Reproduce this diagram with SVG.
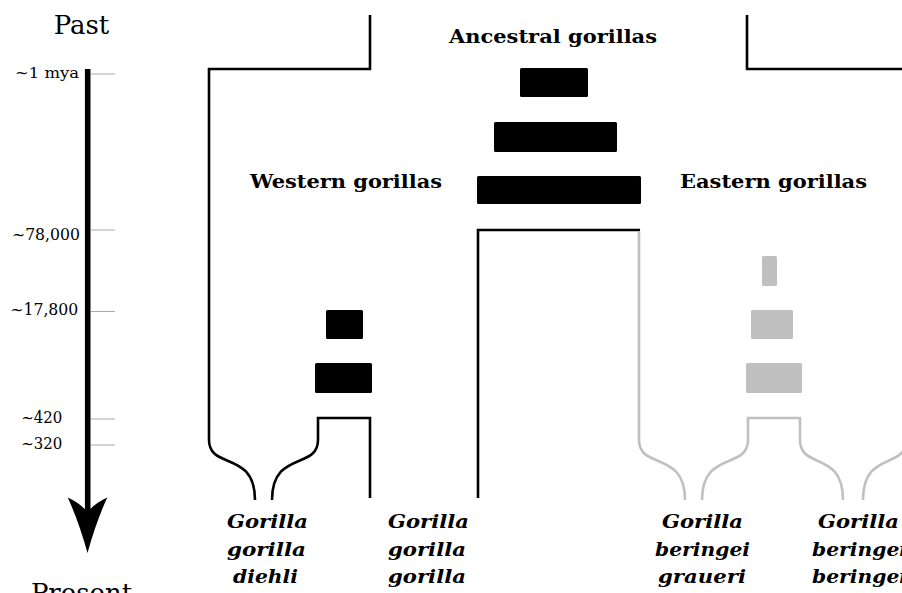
<svg xmlns="http://www.w3.org/2000/svg" width="902" height="593" viewBox="0 0 902 593">
<style>
.serif{font-family:"DejaVu Serif","Liberation Serif",serif;fill:#000}
.tick{font-size:17px}
.head{font-size:18px;font-weight:bold;text-anchor:middle}
.sp{font-size:18px;font-weight:bold;font-style:italic;text-anchor:middle}
.big{font-size:26px;text-anchor:middle}
.tl{stroke:#aaaaaa;stroke-width:1;fill:none}
.blk{stroke:#000;stroke-width:2.6;fill:none}
.gry{stroke:#c0c0c0;stroke-width:2.6;fill:none}
.bb{fill:#000}
.gb{fill:#c0c0c0}
</style>
<rect width="902" height="593" fill="#fff"/>
<g id="timeline">
  <text class="serif big" x="81.5" y="34">Past</text>
  <text class="serif big" x="81.5" y="602">Present</text>
  <line x1="87.7" y1="69" x2="87.7" y2="512" stroke="#000" stroke-width="5.6"/>
  <path d="M87.5,553 Q79,522 67.7,497.5 Q80,503 87.5,512 Q95,503 107.3,497.5 Q96,522 87.5,553 Z" fill="#000"/>
  <line class="tl" x1="91" y1="74" x2="115" y2="74"/>
  <line class="tl" x1="91" y1="230" x2="115" y2="230"/>
  <line class="tl" x1="91" y1="311.5" x2="115" y2="311.5"/>
  <line class="tl" x1="91" y1="419" x2="115" y2="419"/>
  <line class="tl" x1="91" y1="445" x2="115" y2="445"/>
  <text class="serif" x="79" y="77.7" text-anchor="end" font-size="14" textLength="64" lengthAdjust="spacingAndGlyphs">~1 mya</text>
  <text class="serif tick" x="80" y="240" text-anchor="end" textLength="68" lengthAdjust="spacingAndGlyphs">~78,000</text>
  <text class="serif tick" x="78.3" y="315" text-anchor="end" textLength="68" lengthAdjust="spacingAndGlyphs">~17,800</text>
  <text class="serif tick" x="62.3" y="423" text-anchor="end" textLength="41" lengthAdjust="spacingAndGlyphs">~420</text>
  <text class="serif tick" x="62.3" y="449" text-anchor="end" textLength="41" lengthAdjust="spacingAndGlyphs">~320</text>
</g>
<g id="connectors">
  <path class="blk" d="M370,15 V69 H209 V440 C209,470 255,450 255,500"/>
  <path class="blk" d="M272,500 C272,450 318,470 318,440 V418 H370 V498"/>
  <path class="blk" d="M478,498 V230 H640"/>
  <path class="blk" d="M747,15 V69 H905"/>
  <path class="gry" d="M639,231 V440 C639,470 685,450 685,500"/>
  <path class="gry" d="M702,500 C702,450 748,470 748,440 V418 H800 V440 C800,470 843,450 843,500"/>
  <path class="gry" d="M863,500 C863,450 906,470 906,440 V418"/>
</g>
<g id="ancestral">
  <text class="serif head" x="553" y="43" textLength="208" lengthAdjust="spacingAndGlyphs">Ancestral gorillas</text>
  <rect class="bb" x="520" y="68" width="68" height="29" rx="1.5"/>
  <rect class="bb" x="494" y="122" width="123" height="30" rx="1.5"/>
  <rect class="bb" x="477" y="176" width="164" height="28" rx="1.5"/>
</g>
<g id="western">
  <text class="serif head" x="346" y="188.3" textLength="192" lengthAdjust="spacingAndGlyphs">Western gorillas</text>
  <rect class="bb" x="326" y="310" width="37" height="29" rx="1.5"/>
  <rect class="bb" x="315" y="363" width="57" height="30" rx="1.5"/>
</g>
<g id="eastern">
  <text class="serif head" x="773.5" y="188.3" textLength="187" lengthAdjust="spacingAndGlyphs">Eastern gorillas</text>
  <rect class="gb" x="762" y="256" width="15" height="30" rx="1.5"/>
  <rect class="gb" x="751" y="310" width="42" height="29" rx="1.5"/>
  <rect class="gb" x="746" y="363" width="56" height="30" rx="1.5"/>
</g>
<g id="g-g-diehli">
  <text class="serif sp" x="267.5" y="528" textLength="81" lengthAdjust="spacingAndGlyphs">Gorilla</text>
  <text class="serif sp" x="266.5" y="555.5" textLength="79" lengthAdjust="spacingAndGlyphs">gorilla</text>
  <text class="serif sp" x="265.5" y="583" textLength="65" lengthAdjust="spacingAndGlyphs">diehli</text>
</g>
<g id="g-g-gorilla">
  <text class="serif sp" x="428.5" y="528" textLength="81" lengthAdjust="spacingAndGlyphs">Gorilla</text>
  <text class="serif sp" x="427" y="555.5" textLength="78" lengthAdjust="spacingAndGlyphs">gorilla</text>
  <text class="serif sp" x="427" y="583" textLength="78" lengthAdjust="spacingAndGlyphs">gorilla</text>
</g>
<g id="g-b-graueri">
  <text class="serif sp" x="702.5" y="528" textLength="81" lengthAdjust="spacingAndGlyphs">Gorilla</text>
  <text class="serif sp" x="702.5" y="555.5" textLength="95" lengthAdjust="spacingAndGlyphs">beringei</text>
  <text class="serif sp" x="702" y="583" textLength="88" lengthAdjust="spacingAndGlyphs">graueri</text>
</g>
<g id="g-b-beringei">
  <text class="serif sp" x="858.5" y="528" textLength="81" lengthAdjust="spacingAndGlyphs">Gorilla</text>
  <text class="serif sp" x="859.5" y="555.5" textLength="95" lengthAdjust="spacingAndGlyphs">beringei</text>
  <text class="serif sp" x="859.5" y="583" textLength="95" lengthAdjust="spacingAndGlyphs">beringei</text>
</g>
</svg>
